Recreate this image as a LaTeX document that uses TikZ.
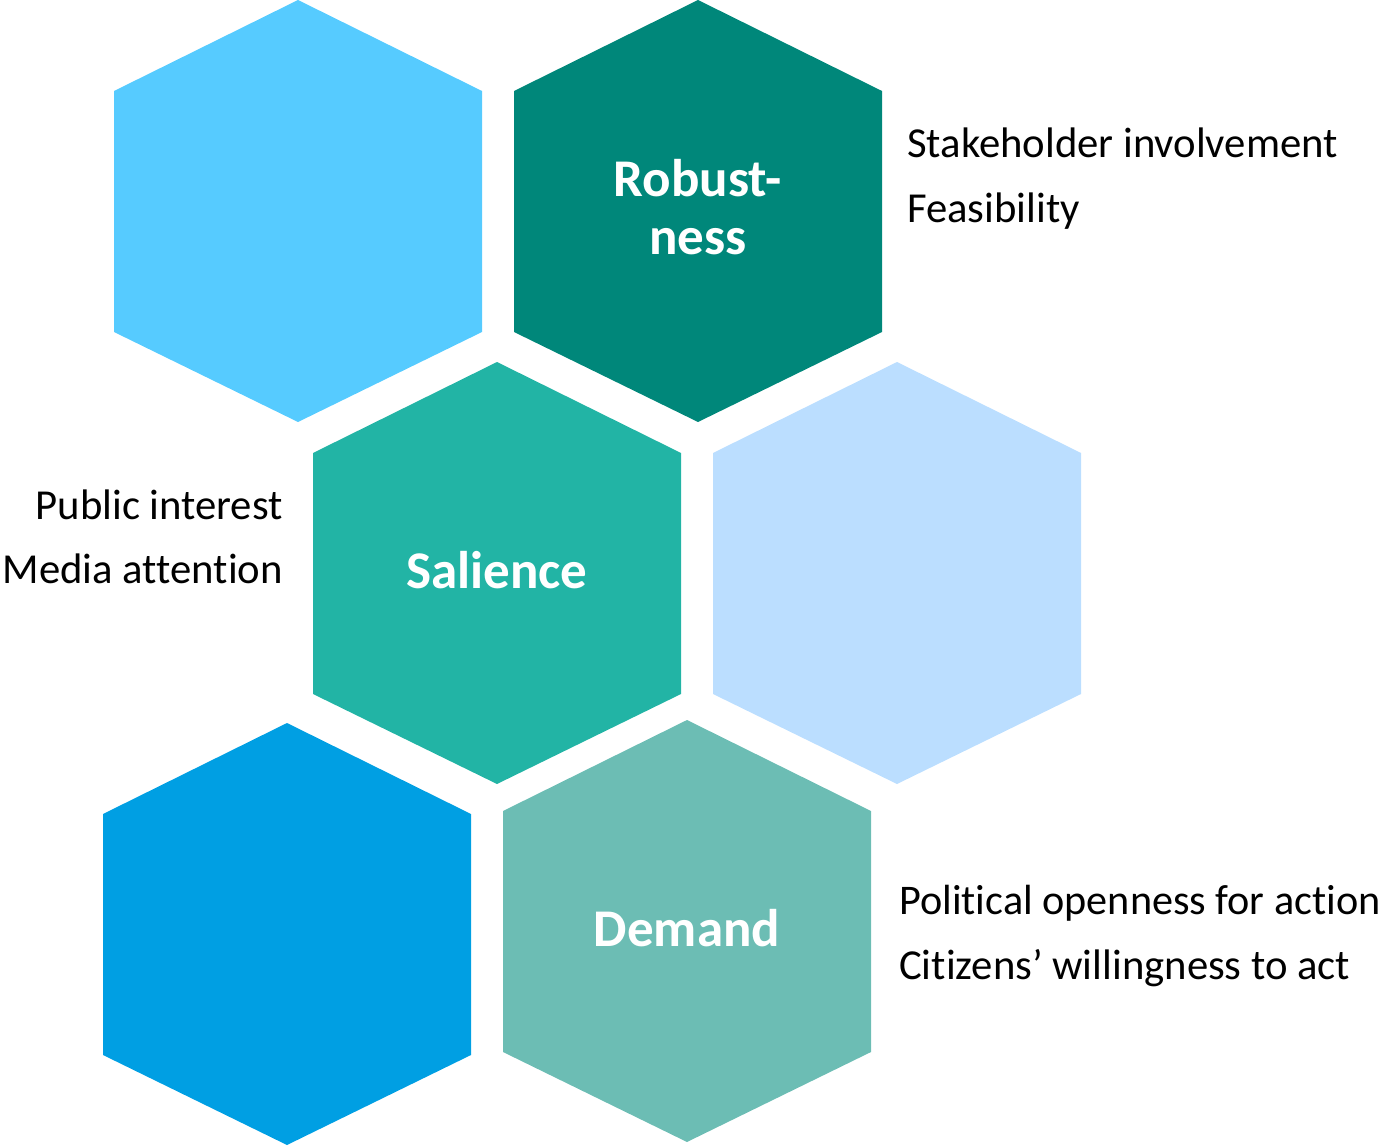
\documentclass[tikz,border=0pt]{standalone}
\usepackage{fontspec}
\setmainfont[Ligatures=NoCommon]{Carlito}
\definecolor{hexA}{RGB}{86,203,255}
\definecolor{hexB}{RGB}{0,135,122}
\definecolor{hexC}{RGB}{34,180,165}
\definecolor{hexD}{RGB}{187,222,255}
\definecolor{hexE}{RGB}{0,159,227}
\definecolor{hexF}{RGB}{108,189,180}
\newcommand\hexshape[3]{%
  \fill[#3] (#1,#2-211) -- (#1+184,#2-120) -- (#1+184,#2+121) -- (#1,#2+211) -- (#1-184,#2+121) -- (#1-184,#2-120) -- cycle;}
\begin{document}
\begin{tikzpicture}[x=1pt,y=-1pt,
  hexlabel/.style={text=white,font=\fontsize{53}{60}\selectfont\bfseries,align=center,inner sep=0pt},
  sidetext/.style={text=black,font=\fontsize{42.7}{50}\selectfont,inner sep=0pt}]
\useasboundingbox (0,0) rectangle (1383,1147);
\hexshape{298}{211}{hexA}
\hexshape{698}{211}{hexB}
\hexshape{497}{573}{hexC}
\hexshape{897}{573}{hexD}
\hexshape{287}{934}{hexE}
\hexshape{687}{931}{hexF}
\node[hexlabel,anchor=base] (rob1) at (698,197) {Robust-};
\node[hexlabel,anchor=base] (rob2) at (698,255) {ness};
\node[hexlabel,anchor=base] (sal) at (497,588) {Salience};
\node[hexlabel,anchor=base] (dem) at (687,946) {Demand};
\node[sidetext,anchor=base west] (s1) at (907,158) {Stakeholder involvement};
\node[sidetext,anchor=base west] (s2) at (907,223) {Feasibility};
\node[sidetext,anchor=base east] (p1) at (283,519) {Public interest};
\node[sidetext,anchor=base east] (p2) at (283,583) {Media attention};
\node[sidetext,anchor=base west,font=\fontsize{42.2}{50}\selectfont] (d1) at (899,914) {Political openness for action};
\node[sidetext,anchor=base west] (d2) at (899,979) {Citizens’ willingness to act};
\end{tikzpicture}
\end{document}
